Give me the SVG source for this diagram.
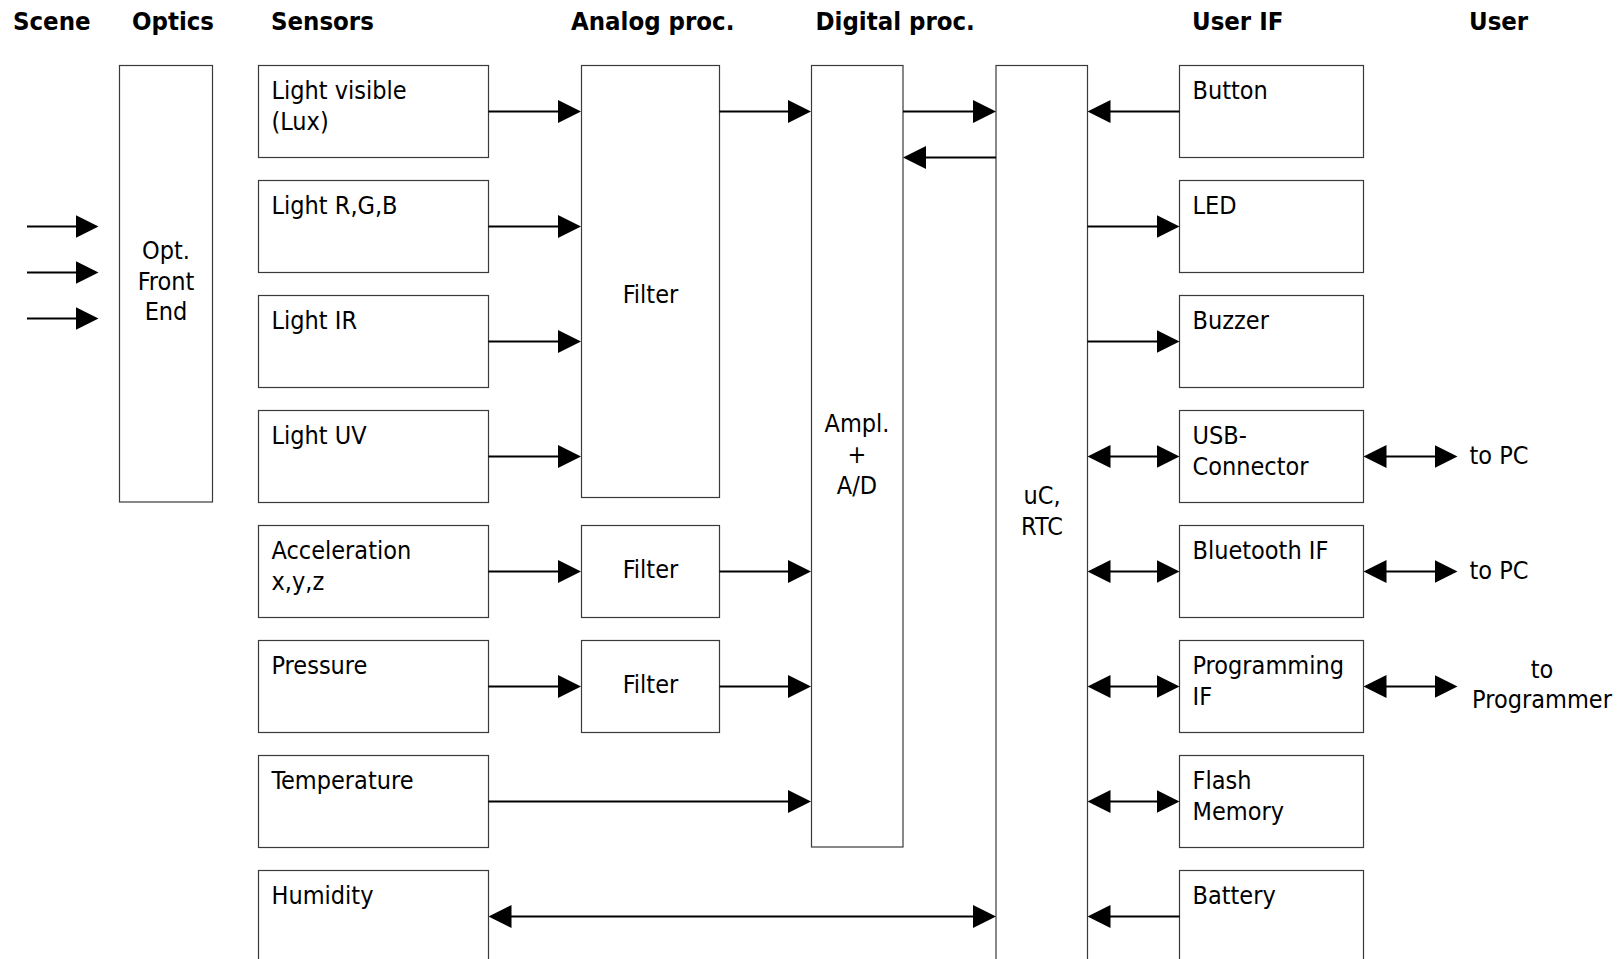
<svg xmlns="http://www.w3.org/2000/svg" width="1624" height="959" viewBox="0 0 1624 959">
<style>
text{font-family:"DejaVu Sans Condensed","DejaVu Sans",sans-serif;font-stretch:condensed;font-size:25px;fill:#000}
.h{font-weight:bold;font-size:25.5px}
.c{text-anchor:middle}
.box{fill:#fff;stroke:#3a3a3a;stroke-width:1.2}
.ln{stroke:#000;stroke-width:2.2;fill:none;marker-end:url(#ah)}
.bi{marker-start:url(#ah)}
</style>
<defs>
<marker id="ah" markerUnits="userSpaceOnUse" viewBox="0 0 23 23" markerWidth="23" markerHeight="23" refX="19" refY="11.5" orient="auto-start-reverse">
<path d="M0,0 L23,11.5 L0,23 z" fill="#000"/>
</marker>
</defs>
<rect width="1624" height="959" fill="#fff"/>
<g id="headers">
<text class="h" x="13" y="29.5">Scene</text>
<text class="h" x="132" y="29.5">Optics</text>
<text class="h" x="271" y="29.5">Sensors</text>
<text class="h" x="571" y="29.5">Analog proc.</text>
<text class="h" x="815.5" y="29.5">Digital proc.</text>
<text class="h" x="1192" y="29.5">User IF</text>
<text class="h" x="1469" y="29.5">User</text>
</g>
<g id="optics"><rect class="box" x="119.5" y="65.5" width="93" height="436.5"/>
<text class="c" x="166" y="259">Opt.</text><text class="c" x="166" y="289.5">Front</text><text class="c" x="166" y="320">End</text></g>
<g id="s-visible"><rect class="box" x="258.5" y="65.5" width="230" height="92"/><text x="271.5" y="99">Light visible</text><text x="271.5" y="130">(Lux)</text></g>
<g id="s-rgb"><rect class="box" x="258.5" y="180.5" width="230" height="92"/><text x="271.5" y="214">Light R,G,B</text></g>
<g id="s-ir"><rect class="box" x="258.5" y="295.5" width="230" height="92"/><text x="271.5" y="329">Light IR</text></g>
<g id="s-uv"><rect class="box" x="258.5" y="410.5" width="230" height="92"/><text x="271.5" y="444">Light UV</text></g>
<g id="s-accel"><rect class="box" x="258.5" y="525.5" width="230" height="92"/><text x="271.5" y="559">Acceleration</text><text x="271.5" y="590">x,y,z</text></g>
<g id="s-pressure"><rect class="box" x="258.5" y="640.5" width="230" height="92"/><text x="271.5" y="674">Pressure</text></g>
<g id="s-temp"><rect class="box" x="258.5" y="755.5" width="230" height="92"/><text x="271.5" y="789">Temperature</text></g>
<g id="s-humidity"><rect class="box" x="258.5" y="870.5" width="230" height="110"/><text x="271.5" y="904">Humidity</text></g>
<g id="filter-main"><rect class="box" x="581.5" y="65.5" width="138" height="432"/><text class="c" x="650.5" y="303">Filter</text></g>
<g id="filter-accel"><rect class="box" x="581.5" y="525.5" width="138" height="92"/><text class="c" x="650.5" y="577.5">Filter</text></g>
<g id="filter-pressure"><rect class="box" x="581.5" y="640.5" width="138" height="92"/><text class="c" x="650.5" y="692.5">Filter</text></g>
<g id="ampl-ad"><rect class="box" x="811.5" y="65.5" width="91.5" height="781.5"/>
<text class="c" x="857" y="431.5">Ampl.</text><text class="c" x="857" y="462.5">+</text><text class="c" x="857" y="493.5">A/D</text></g>
<g id="uc-rtc"><rect class="box" x="996" y="65.5" width="91.5" height="915"/>
<text class="c" x="1042" y="504">uC,</text><text class="c" x="1042" y="535">RTC</text></g>
<g id="u-button"><rect class="box" x="1179.5" y="65.5" width="184" height="92"/><text x="1192.5" y="99">Button</text></g>
<g id="u-led"><rect class="box" x="1179.5" y="180.5" width="184" height="92"/><text x="1192.5" y="214">LED</text></g>
<g id="u-buzzer"><rect class="box" x="1179.5" y="295.5" width="184" height="92"/><text x="1192.5" y="329">Buzzer</text></g>
<g id="u-usb"><rect class="box" x="1179.5" y="410.5" width="184" height="92"/><text x="1192.5" y="444">USB-</text><text x="1192.5" y="475">Connector</text></g>
<g id="u-bt"><rect class="box" x="1179.5" y="525.5" width="184" height="92"/><text x="1192.5" y="559">Bluetooth IF</text></g>
<g id="u-prog"><rect class="box" x="1179.5" y="640.5" width="184" height="92"/><text x="1192.5" y="674">Programming</text><text x="1192.5" y="705">IF</text></g>
<g id="u-flash"><rect class="box" x="1179.5" y="755.5" width="184" height="92"/><text x="1192.5" y="789">Flash</text><text x="1192.5" y="820">Memory</text></g>
<g id="u-battery"><rect class="box" x="1179.5" y="870.5" width="184" height="110"/><text x="1192.5" y="904">Battery</text></g>
<g id="user-labels">
<text x="1469.5" y="464">to PC</text>
<text x="1469.5" y="579">to PC</text>
<text class="c" x="1542" y="677.5">to</text>
<text class="c" x="1542" y="708">Programmer</text>
</g>
<g id="connectors">
<line class="ln" x1="27" y1="226.5" x2="94.5" y2="226.5"/>
<line class="ln" x1="27" y1="272.5" x2="94.5" y2="272.5"/>
<line class="ln" x1="27" y1="318.5" x2="94.5" y2="318.5"/>
<line class="ln" x1="488.5" y1="111.5" x2="577" y2="111.5"/>
<line class="ln" x1="488.5" y1="226.5" x2="577" y2="226.5"/>
<line class="ln" x1="488.5" y1="341.5" x2="577" y2="341.5"/>
<line class="ln" x1="488.5" y1="456.5" x2="577" y2="456.5"/>
<line class="ln" x1="488.5" y1="571.5" x2="577" y2="571.5"/>
<line class="ln" x1="488.5" y1="686.5" x2="577" y2="686.5"/>
<line class="ln" x1="719.5" y1="111.5" x2="807" y2="111.5"/>
<line class="ln" x1="719.5" y1="571.5" x2="807" y2="571.5"/>
<line class="ln" x1="719.5" y1="686.5" x2="807" y2="686.5"/>
<line class="ln" x1="488.5" y1="801.5" x2="807" y2="801.5"/>
<line class="ln bi" x1="492.5" y1="916.5" x2="992" y2="916.5"/>
<line class="ln" x1="903" y1="111.5" x2="992" y2="111.5"/>
<line class="ln" x1="996" y1="157.5" x2="907" y2="157.5"/>
<line class="ln" x1="1179.5" y1="111.5" x2="1091.5" y2="111.5"/>
<line class="ln" x1="1087.5" y1="226.5" x2="1175.5" y2="226.5"/>
<line class="ln" x1="1087.5" y1="341.5" x2="1175.5" y2="341.5"/>
<line class="ln bi" x1="1091.5" y1="456.5" x2="1175.5" y2="456.5"/>
<line class="ln bi" x1="1091.5" y1="571.5" x2="1175.5" y2="571.5"/>
<line class="ln bi" x1="1091.5" y1="686.5" x2="1175.5" y2="686.5"/>
<line class="ln bi" x1="1091.5" y1="801.5" x2="1175.5" y2="801.5"/>
<line class="ln" x1="1179.5" y1="916.5" x2="1091.5" y2="916.5"/>
<line class="ln bi" x1="1367.5" y1="456.5" x2="1453.5" y2="456.5"/>
<line class="ln bi" x1="1367.5" y1="571.5" x2="1453.5" y2="571.5"/>
<line class="ln bi" x1="1367.5" y1="686.5" x2="1453.5" y2="686.5"/>
</g>
</svg>
